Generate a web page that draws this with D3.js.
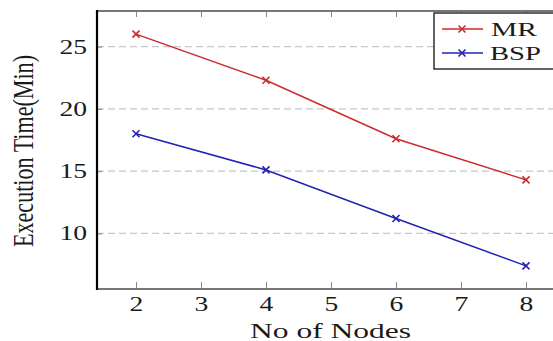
<!DOCTYPE html>
<html>
<head>
<meta charset="utf-8">
<script src="https://cdn.jsdelivr.net/npm/d3@7"></script>
<style>
  body { margin: 0; background: #fff; }
  text { font-family: "Liberation Serif", serif; fill: #1a1a1a; }
</style>
</head>
<body>
<script>
// Données
const nodes = [2, 4, 6, 8]
const mr = [26, 22.3, 17.6, 14.3]
const bsp = [18, 15.1, 11.2, 7.4]
const xTicks = [2, 3, 4, 5, 6, 7, 8]
const yTicks = [10, 15, 20, 25]
const seriesNames = ['MR', 'BSP']

const W = 553, H = 341
const mLeft = 97, mRight = 565, mTop = 11, mBottom = 289
const stretch = 1.38
const red = '#cc2b2b', blue = '#2222b4'

const svg = d3.select('body')
  .append('svg')
  .attr('width', W)
  .attr('height', H)

const x = d3.scaleLinear().domain([1.4, 8.6]).range([mLeft, mRight])
const y = d3.scaleLinear().domain([5.54, 27.86]).range([mBottom, mTop])

// Grille horizontale
svg.append('g')
  .selectAll('line')
  .data(yTicks)
  .enter()
  .append('line')
    .attr('x1', mLeft)
    .attr('x2', mRight)
    .attr('y1', d => y(d))
    .attr('y2', d => y(d))
    .attr('stroke', '#c8c8c8')
    .attr('stroke-width', 1.2)
    .attr('stroke-dasharray', '7 4')

// Axe du bas
const xAxis = svg.append('g')
  .attr('transform', `translate(0,${mBottom})`)
  .call(d3.axisBottom(x).tickValues(xTicks).tickSizeInner(-7).tickSizeOuter(0).tickPadding(7.5))
xAxis.select('.domain').remove()
xAxis.selectAll('line').attr('stroke', '#888')
xAxis.selectAll('text')
  .attr('font-size', 20)
  .attr('font-family', '"Liberation Serif", serif')
  .attr('transform', `scale(${stretch},1)`)

// Ticks du haut
const xTop = svg.append('g')
  .attr('transform', `translate(0,${mTop})`)
  .call(d3.axisTop(x).tickValues(xTicks).tickSizeInner(-6).tickSizeOuter(0).tickFormat(''))
xTop.select('.domain').remove()
xTop.selectAll('line').attr('stroke', '#888')

// Axe de gauche
const yAxis = svg.append('g')
  .attr('transform', `translate(${mLeft},0)`)
  .call(d3.axisLeft(y).tickValues(yTicks).tickSizeInner(-5).tickSizeOuter(0).tickPadding(10))
yAxis.select('.domain').remove()
yAxis.selectAll('line').attr('stroke', '#888')
yAxis.selectAll('text')
  .attr('font-size', 20)
  .attr('font-family', '"Liberation Serif", serif')
  .attr('x', -10 / stretch)
  .attr('transform', `scale(${stretch},1)`)

// Cadre
svg.append('line').attr('x1', mLeft).attr('x2', mRight).attr('y1', mTop).attr('y2', mTop)
  .attr('stroke', '#777').attr('stroke-width', 2)
svg.append('line').attr('x1', mLeft).attr('x2', mRight).attr('y1', mBottom).attr('y2', mBottom)
  .attr('stroke', '#777').attr('stroke-width', 2)
svg.append('line').attr('x1', mLeft).attr('x2', mLeft).attr('y1', mTop - 1).attr('y2', mBottom + 1)
  .attr('stroke', '#000').attr('stroke-width', 2.2)

// Courbes
const line = d3.line().x(d => x(d[0])).y(d => y(d[1]))

function cross(g, cx, cy, color) {
  const r = 3.5
  g.append('path')
    .attr('d', `M${cx - r},${cy - r}L${cx + r},${cy + r}M${cx - r},${cy + r}L${cx + r},${cy - r}`)
    .attr('stroke', color)
    .attr('stroke-width', 1.6)
    .attr('fill', 'none')
}

const series = [
  { name: seriesNames[0], values: mr, color: red },
  { name: seriesNames[1], values: bsp, color: blue }
]

series.forEach(s => {
  const pts = nodes.map((n, i) => [n, s.values[i]])
  const g = svg.append('g')
  g.append('path')
    .attr('d', line(pts))
    .attr('fill', 'none')
    .attr('stroke', s.color)
    .attr('stroke-width', 1.5)
  pts.forEach(p => cross(g, x(p[0]), y(p[1]), s.color))
})

// Légende
const leg = svg.append('g')
leg.append('rect')
  .attr('x', 434).attr('y', 13).attr('width', 125).attr('height', 56)
  .attr('fill', '#fff').attr('stroke', '#111').attr('stroke-width', 1.3)

const legRows = [
  { y: 29, base: 35.5, len: 46, tx: 491 },
  { y: 53, base: 59.5, len: 51, tx: 490 }
]
series.forEach((s, i) => {
  const r = legRows[i]
  leg.append('line')
    .attr('x1', 442).attr('x2', 483).attr('y1', r.y).attr('y2', r.y)
    .attr('stroke', s.color).attr('stroke-width', 1.5)
  cross(leg, 462, r.y, s.color)
  leg.append('text')
    .text(s.name)
    .attr('x', r.tx)
    .attr('y', r.base)
    .attr('font-size', 18)
    .attr('textLength', r.len)
    .attr('lengthAdjust', 'spacingAndGlyphs')
})

// Titres des axes
svg.append('text')
  .text('No of Nodes')
  .attr('x', 330.5)
  .attr('y', 337.5)
  .attr('text-anchor', 'middle')
  .attr('font-size', 22)
  .attr('textLength', 161)
  .attr('lengthAdjust', 'spacingAndGlyphs')

svg.append('text')
  .text('Execution Time(Min)')
  .attr('transform', `translate(33,151) scale(${stretch},1) rotate(-90)`)
  .attr('text-anchor', 'middle')
  .attr('font-size', 22)
  .attr('textLength', 192)
  .attr('lengthAdjust', 'spacingAndGlyphs')
</script>
</body>
</html>
